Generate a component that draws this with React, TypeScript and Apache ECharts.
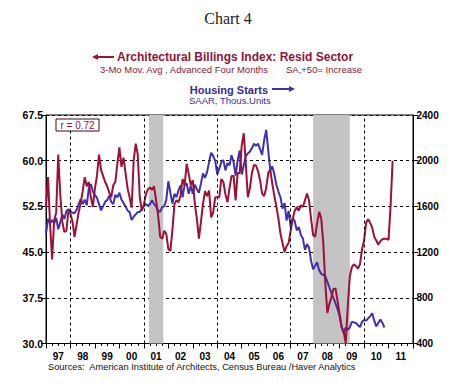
import React, { useEffect, useRef } from "react";
import * as echarts from "echarts";

// Month index 0 = Jan 1997, 180 = Jan 2012
const yearLabels = ["97", "98", "99", "00", "01", "02", "03", "04", "05", "06", "07", "08", "09", "10", "11"];

// Architectural Billings Index: Resid Sector (3-mo avg, advanced 4 months), monthly from Jan 1997
const abiValues = [
  52.4, 57.3, 49.5, 43.8, 50.2, 51.5, 61.0, 54.5, 50.0, 48.3, 48.5, 51.8,
  51.3, 50.0, 47.5, 49.5, 51.5, 53.0, 55.0, 57.3, 55.8, 56.5, 54.0, 52.4,
  55.5, 57.5, 61.0, 58.5, 57.5, 56.5, 55.8, 54.8, 54.0, 56.0, 56.5, 59.5,
  62.2, 59.0, 60.5, 58.0, 55.5, 54.0, 52.3, 60.0, 62.8, 61.0, 54.0, 51.8,
  52.8, 54.5, 55.3, 55.6, 55.2, 55.8, 53.5, 51.0, 47.5, 47.2, 48.5, 48.0,
  45.5, 45.2, 48.6, 52.9, 53.5, 53.2, 54.3, 57.0, 56.0, 59.5, 57.8, 56.0,
  56.8, 52.9, 50.5, 47.2, 50.0, 52.9, 55.0, 54.2, 55.1, 50.7, 51.5, 54.0,
  54.0, 54.0, 57.0, 56.5, 54.5, 53.2, 55.5, 57.5, 57.5, 53.5, 58.0, 58.0,
  62.5, 64.5, 59.5, 54.0, 55.5, 58.0, 59.3, 59.2, 58.3, 56.8, 54.6, 54.2,
  55.5, 58.0, 58.5, 56.2, 54.2, 52.5, 50.5, 48.0, 46.5, 45.0, 46.0, 46.5,
  48.5, 50.5, 51.8, 52.4, 51.8, 52.7, 52.4, 53.5, 54.6, 53.5, 50.5, 47.8,
  47.5, 49.8, 51.6, 50.5, 46.5, 39.8, 35.0, 36.5, 37.6, 39.0, 39.0, 37.0,
  34.8, 32.7, 32.0, 30.0, 36.0, 41.0, 42.5, 43.0, 42.7, 42.3, 43.0, 45.5,
  46.9, 49.8, 50.4, 49.8, 49.0, 47.5, 46.9, 46.2, 46.8, 47.1, 47.2, 47.2,
  47.0, 52.5, 60.0,
];

// Housing Starts, SAAR, thous. units, monthly from Jan 1997
const startsValues = [
  1360, 1490, 1450, 1480, 1450, 1500, 1400, 1460, 1530, 1490, 1560, 1575,
  1560, 1545, 1540, 1570, 1615, 1665, 1620, 1660, 1610, 1760, 1795, 1730,
  1700, 1675, 1620, 1565, 1600, 1640, 1655, 1695, 1640, 1620, 1700, 1680,
  1720, 1660, 1630, 1600, 1565, 1550, 1480, 1510, 1530, 1550, 1552, 1580,
  1600, 1621, 1605, 1620, 1653, 1620, 1600, 1563, 1552, 1595, 1600, 1660,
  1820, 1720, 1625, 1710, 1680, 1740, 1785, 1680, 1790, 1800, 1710, 1780,
  1710, 1790, 1750, 1720, 1800, 1888, 1850, 1900, 1990, 2070, 2040, 2000,
  1880, 1930, 1990, 2005, 1915, 1980, 1960, 2048, 1990, 1870, 2000, 2090,
  1880, 1960, 2040, 2064, 2080, 2110, 2149, 2130, 2150, 2100, 2050, 2180,
  2270, 2090, 1915, 1950, 1880, 1790, 1730, 1680, 1580, 1630, 1477, 1560,
  1420, 1500, 1470, 1390, 1420, 1350, 1320, 1220, 1270, 1240, 1125, 1050,
  1080, 1110, 1040, 1010, 1000, 990, 940, 890, 840, 800, 750, 700,
  640, 544, 490, 540, 520, 540, 590, 585, 580, 560, 544, 590,
  605, 600, 620, 640, 665, 600, 550, 580, 610, 580, 540,
];

// Recessions (month index ranges) and vertical grid positions (month index)
const recessions = [
  [50.5, 57.5],
  [131, 149],
];
const gridMonths = [12, 48, 84, 120, 156];

const RED = "#9e1036";
const BLUE = "#4030b0";
const FONT = 'Arial, "Liberation Sans", sans-serif';

export default function App() {
  const ref = useRef<HTMLDivElement>(null);
  useEffect(() => {
    document.body.style.margin = "0";
    if (!ref.current) return;
    const chart = echarts.init(ref.current, null, { renderer: "svg" });
    chart.setOption({
      animation: false,
      backgroundColor: "#fff",
      grid: {
        left: 46,
        top: 115,
        width: 367,
        height: 228.5,
        show: true,
        borderColor: "#000",
        borderWidth: 1,
        backgroundColor: "transparent",
      },
      xAxis: [
        {
          type: "category",
          data: yearLabels,
          position: "bottom",
          boundaryGap: true,
          axisLine: { show: false },
          axisTick: { show: false },
          splitLine: { show: false },
          axisLabel: {
            margin: 7.5,
            fontFamily: FONT,
            fontWeight: "bold",
            fontSize: 10,
            lineHeight: 10,
            color: "#000",
          },
        },
        {
          type: "value",
          position: "bottom",
          min: 0,
          max: 180,
          interval: 12,
          axisLine: { show: true, lineStyle: { color: "#000", width: 1 } },
          axisTick: { show: true, inside: false, length: 5, lineStyle: { color: "#000" } },
          minorTick: { show: true, splitNumber: 4, length: 2.5, lineStyle: { color: "#000" } },
          axisLabel: { show: false },
          splitLine: { show: false },
        },
      ],
      yAxis: [
        {
          type: "value",
          position: "left",
          min: 30,
          max: 67.5,
          interval: 7.5,
          axisLine: { show: true, lineStyle: { color: "#000" } },
          axisTick: { show: true, inside: false, length: 5, lineStyle: { color: "#000" } },
          axisLabel: {
            margin: 3,
            fontFamily: FONT,
            fontWeight: "bold",
            fontSize: 10.5,
            color: "#000",
            formatter: (v: number) => v.toFixed(1),
          },
          splitLine: { show: true, lineStyle: { color: "#000", type: [3, 3], width: 1 } },
        },
        {
          type: "value",
          position: "right",
          min: 400,
          max: 2400,
          interval: 400,
          axisLine: { show: true, lineStyle: { color: "#000" } },
          axisTick: { show: true, inside: false, length: 5, lineStyle: { color: "#000" } },
          axisLabel: {
            margin: 3.5,
            fontFamily: FONT,
            fontWeight: "bold",
            fontSize: 10,
            color: "#000",
            formatter: (v: number) => String(v),
          },
          splitLine: { show: false },
        },
      ],
      series: [
        {
          type: "line",
          name: "markers",
          xAxisIndex: 1,
          yAxisIndex: 0,
          data: [],
          z: 1,
          silent: true,
          markArea: {
            silent: true,
            itemStyle: { color: "#c4c4c4", opacity: 1 },
            data: recessions.map((r) => [{ xAxis: r[0] }, { xAxis: r[1] }]),
          },
          markLine: {
            silent: true,
            symbol: ["none", "none"],
            label: { show: false },
            lineStyle: { color: "#000", type: [3, 3], width: 1 },
            data: gridMonths.map((m) => ({ xAxis: m })),
          },
        },
        {
          type: "line",
          name: "Housing Starts",
          xAxisIndex: 1,
          yAxisIndex: 1,
          data: startsValues.map((v, i) => [i, v]),
          showSymbol: false,
          symbol: "none",
          lineStyle: { color: BLUE, width: 2 },
          z: 3,
        },
        {
          type: "line",
          name: "Architectural Billings Index",
          xAxisIndex: 1,
          yAxisIndex: 0,
          data: abiValues.map((v, i) => [i, v]),
          showSymbol: false,
          symbol: "none",
          lineStyle: { color: RED, width: 2 },
          z: 4,
        },
      ],
      graphic: [
        {
          type: "text",
          x: 228,
          y: 18,
          style: {
            text: "Chart 4",
            fill: "#222",
            fontFamily: '"Liberation Serif", "Times New Roman", serif',
            fontSize: 16,
            align: "center",
            verticalAlign: "middle",
          },
        },
        {
          type: "line",
          shape: { x1: 97, y1: 57, x2: 114, y2: 57 },
          style: { stroke: RED, lineWidth: 2 },
        },
        {
          type: "polygon",
          shape: { points: [[92, 57], [98, 54], [98, 60]] },
          style: { fill: RED },
        },
        {
          type: "text",
          x: 117,
          y: 57,
          style: {
            text: "Architectural Billings Index: Resid Sector",
            fill: "#8c1538",
            fontFamily: FONT,
            fontWeight: "bold",
            fontSize: 12,
            align: "left",
            verticalAlign: "middle",
          },
        },
        {
          type: "text",
          x: 100,
          y: 69.5,
          style: {
            text: "3-Mo Mov. Avg , Advanced Four Months",
            fill: "#8c1538",
            fontFamily: FONT,
            fontSize: 9.5,
            lineHeight: 10,
            align: "left",
            verticalAlign: "middle",
          },
        },
        {
          type: "text",
          x: 286,
          y: 69.5,
          style: {
            text: "SA,+50= Increase",
            fill: "#8c1538",
            fontFamily: FONT,
            fontSize: 9.5,
            lineHeight: 10,
            align: "left",
            verticalAlign: "middle",
          },
        },
        {
          type: "text",
          x: 268,
          y: 89.5,
          style: {
            text: "Housing Starts",
            fill: "#3a2a96",
            fontFamily: FONT,
            fontWeight: "bold",
            fontSize: 11,
            align: "right",
            verticalAlign: "middle",
          },
        },
        {
          type: "line",
          shape: { x1: 272, y1: 89, x2: 290, y2: 89 },
          style: { stroke: BLUE, lineWidth: 2 },
        },
        {
          type: "polygon",
          shape: { points: [[295, 89], [289, 86], [289, 92]] },
          style: { fill: BLUE },
        },
        {
          type: "text",
          x: 189,
          y: 100.5,
          style: {
            text: "SAAR, Thous.Units",
            fill: "#3a2a96",
            fontFamily: FONT,
            fontSize: 9.5,
            lineHeight: 10,
            align: "left",
            verticalAlign: "middle",
          },
        },
        {
          type: "rect",
          shape: { x: 56, y: 119, width: 43, height: 12 },
          style: { fill: "#fff", stroke: "#3a0a18", lineWidth: 1 },
          z: 10,
        },
        {
          type: "text",
          x: 77.5,
          y: 125.5,
          z: 11,
          style: {
            text: "r = 0.72",
            fill: "#8c1538",
            fontFamily: FONT,
            fontSize: 10,
            lineHeight: 10,
            align: "center",
            verticalAlign: "middle",
          },
        },
        {
          type: "text",
          x: 48,
          y: 367,
          style: {
            text: "Sources:  American Institute of Architects, Census Bureau /Haver Analytics",
            fill: "#111",
            fontFamily: FONT,
            fontSize: 9.3,
            lineHeight: 10,
            align: "left",
            verticalAlign: "middle",
          },
        },
      ],
    });
    return () => chart.dispose();
  }, []);
  return <div ref={ref} style={{ width: 454, height: 389 }} />;
}
